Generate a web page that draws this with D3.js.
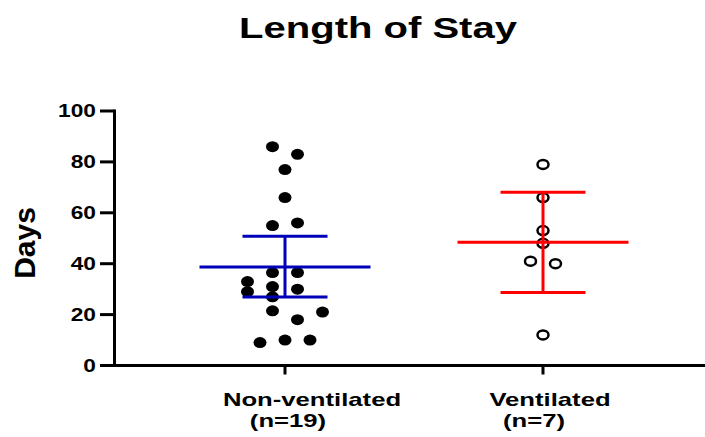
<!DOCTYPE html>
<html>
<head>
<meta charset="utf-8">
<script src="https://cdn.jsdelivr.net/npm/d3@7"></script>
<style>
  body { margin: 0; background: #fff; }
  text { font-family: "Liberation Sans", Arial, sans-serif; font-weight: bold; fill: #000; }
</style>
</head>
<body>
<svg id="chart" width="705" height="437"></svg>
<script>
// data
var groups = ["Non-ventilated", "Ventilated"];
var groupN = ["(n=19)", "(n=7)"];

var nonVent = [86, 83, 77, 66, 55, 56, 36.5, 36.5, 33, 29, 31, 30, 27, 21.5, 21, 18, 9, 10, 10];
var nonVentJitter = [-0.5, 0.5, 0, 0, -0.5, 0.5, -0.5, 0.5, -1.5, -1.5, -0.5, 0.5, -0.5, -0.5, 1.5, 0.5, -1, 0, 1];

var vent = [79, 66, 53, 48, 41, 40, 12];
var ventJitter = [0, 0, 0, 0, -0.5, 0.5, 0];

// mean with 95% CI
var means = [38.7, 48.4];
var ciLow = [26.9, 28.7];
var ciHigh = [50.8, 68.1];

var yTicks = [0, 20, 40, 60, 80, 100];
var colors = ["#0000b8", "#ff0000"];

var svg = d3.select("#chart"),
    width = +svg.attr("width"),
    height = +svg.attr("height");

var axisX = 114.5, yTop = 111, yBottom = 365.5;
var stretch = 1.38;   // the figure uses a wide bold face

var y = d3.scaleLinear().domain([0, 100]).range([yBottom, yTop]);
var x = d3.scalePoint().domain(groups).range([285, 543]);
var jitterStep = 25;

// title
svg.append("text")
    .attr("transform", "translate(378,38) scale(" + stretch + ",1)")
    .attr("text-anchor", "middle")
    .style("font-size", "29px")
    .text("Length of Stay");

// y label
svg.append("text")
    .attr("transform", "translate(35,243) rotate(-90)")
    .attr("text-anchor", "middle")
    .style("font-size", "30px")
    .text("Days");

// y axis
svg.append("line")
    .attr("x1", axisX).attr("x2", axisX)
    .attr("y1", y(100) - 1.5).attr("y2", y(0) + 1.5)
    .attr("stroke", "#000").attr("stroke-width", 3);

var yt = svg.selectAll(".ytick")
    .data(yTicks)
  .enter().append("g")
    .attr("class", "ytick");

yt.append("line")
    .attr("x1", 100).attr("x2", axisX)
    .attr("y1", function(d) { return y(d); })
    .attr("y2", function(d) { return y(d); })
    .attr("stroke", "#000").attr("stroke-width", 3);

yt.append("text")
    .attr("transform", function(d) { return "translate(96," + y(d) + ") scale(1.3,1)"; })
    .attr("text-anchor", "end")
    .attr("dy", "0.36em")
    .style("font-size", "17.5px")
    .text(function(d) { return d; });

// x axis
svg.append("line")
    .attr("x1", axisX - 1.5).attr("x2", width)
    .attr("y1", y(0)).attr("y2", y(0))
    .attr("stroke", "#000").attr("stroke-width", 3);

var xt = svg.selectAll(".xtick")
    .data(groups)
  .enter().append("g")
    .attr("class", "xtick");

xt.append("line")
    .attr("x1", function(d) { return x(d); })
    .attr("x2", function(d) { return x(d); })
    .attr("y1", y(0)).attr("y2", y(0) + 9)
    .attr("stroke", "#000").attr("stroke-width", 3);

// label lines sit a little off the tick in the figure
var labelShift = [[27, 3], [7, -9]];

xt.append("text")
    .attr("transform", function(d, i) { return "translate(" + (x(d) + labelShift[i][0]) + ",406) scale(" + stretch + ",1)"; })
    .attr("text-anchor", "middle")
    .style("font-size", "18.6px")
    .text(function(d) { return d; });

xt.append("text")
    .attr("transform", function(d, i) { return "translate(" + (x(d) + labelShift[i][1]) + ",427) scale(" + stretch + ",1)"; })
    .attr("text-anchor", "middle")
    .style("font-size", "18.6px")
    .text(function(d, i) { return groupN[i]; });

// points
var ptsA = nonVent.map(function(v, i) { return { v: v, j: nonVentJitter[i] }; });
var ptsB = vent.map(function(v, i) { return { v: v, j: ventJitter[i] }; });

svg.append("g").selectAll("ellipse")
    .data(ptsA)
  .enter().append("ellipse")
    .attr("cx", function(d) { return x(groups[0]) + d.j * jitterStep; })
    .attr("cy", function(d) { return y(d.v); })
    .attr("rx", 6.5).attr("ry", 5.5)
    .attr("fill", "#000");

svg.append("g").selectAll("ellipse")
    .data(ptsB)
  .enter().append("ellipse")
    .attr("cx", function(d) { return x(groups[1]) + d.j * jitterStep; })
    .attr("cy", function(d) { return y(d.v); })
    .attr("rx", 5.5).attr("ry", 4.5)
    .attr("fill", "#fff")
    .attr("stroke", "#000")
    .attr("stroke-width", 2.5);

// mean and CI
var stats = groups.map(function(g, i) {
  return { g: g, m: means[i], lo: ciLow[i], hi: ciHigh[i], c: colors[i] };
});

var st = svg.selectAll(".stat")
    .data(stats)
  .enter().append("g")
    .attr("class", "stat")
    .attr("stroke", function(d) { return d.c; })
    .attr("stroke-width", 3);

st.append("line")
    .attr("x1", function(d) { return x(d.g) - 85.5; })
    .attr("x2", function(d) { return x(d.g) + 85.5; })
    .attr("y1", function(d) { return y(d.m); })
    .attr("y2", function(d) { return y(d.m); });

st.append("line")
    .attr("x1", function(d) { return x(d.g); })
    .attr("x2", function(d) { return x(d.g); })
    .attr("y1", function(d) { return y(d.lo); })
    .attr("y2", function(d) { return y(d.hi); });

st.selectAll(".cap")
    .data(function(d) { return [d.lo, d.hi].map(function(v) { return { g: d.g, v: v }; }); })
  .enter().append("line")
    .attr("x1", function(d) { return x(d.g) - 42.5; })
    .attr("x2", function(d) { return x(d.g) + 42.5; })
    .attr("y1", function(d) { return y(d.v); })
    .attr("y2", function(d) { return y(d.v); });
</script>
</body>
</html>
